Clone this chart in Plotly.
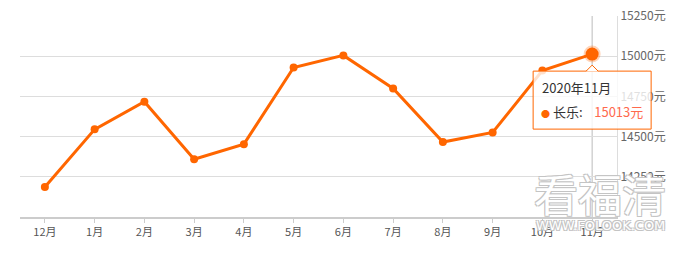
import plotly.graph_objects as go

months = ["12月", "1月", "2月", "3月", "4月", "5月", "6月", "7月", "8月", "9月", "10月", "11月"]
prices = [14186, 14545, 14717, 14359, 14453, 14930, 15005, 14799, 14466, 14526, 14911, 15013]
y_ticks = [14250, 14500, 14750, 15000, 15250]
y_range = [14000, 15250]
tip_title = "2020年11月"
tip_name = "长乐"

ORANGE = "#ff6600"
font_cn = "Noto Sans CJK SC"

fig = go.Figure()
fig.add_trace(go.Scatter(
    x=months, y=prices, mode="lines+markers",
    line=dict(color=ORANGE, width=3),
    marker=dict(size=8, color=ORANGE),
    hoverinfo="skip", showlegend=False, cliponaxis=False,
))
fig.add_trace(go.Scatter(
    x=[months[-1]], y=[prices[-1]], mode="markers",
    marker=dict(size=13, color=ORANGE, line=dict(width=4, color="rgba(255,102,0,0.28)")),
    hoverinfo="skip", showlegend=False, cliponaxis=False,
))

# crosshair
fig.add_shape(type="line", xref="x", yref="paper", x0=months[-1], x1=months[-1], y0=0, y1=1,
              line=dict(color="#bbbbbb", width=1), layer="below")

# tooltip anchored to the last point (paper anchor so it is not clipped)
ax_p = (len(months) - 0.5) / len(months)
ay_p = (prices[-1] - y_range[0]) / (y_range[1] - y_range[0])
common = dict(xref="paper", yref="paper", xsizemode="pixel", ysizemode="pixel",
              xanchor=ax_p, yanchor=ay_p, layer="above")
fig.add_shape(type="rect", x0=-59, x1=59, y0=-17, y1=-75,
              fillcolor="rgba(255,255,255,0.8)", line=dict(color=ORANGE, width=1), **common)
fig.add_shape(type="path", path="M -6,-17.5 L 0,-11.5 L 6,-17.5 Z",
              fillcolor="white", line=dict(color="rgba(0,0,0,0)", width=0), **common)
fig.add_shape(type="path", path="M -6,-17 L 0,-11 L 6,-17",
              line=dict(color=ORANGE, width=1), **common)

fig.add_annotation(x=months[-1], y=prices[-1], xref="x", yref="y", xanchor="left", yanchor="middle",
                   xshift=-52, yshift=-33.5, text=tip_title, showarrow=False,
                   font=dict(family=font_cn, size=13, color="#333333"))
fig.add_annotation(x=months[-1], y=prices[-1], xref="x", yref="y", xanchor="left", yanchor="middle",
                   xshift=-53, yshift=-57.5,
                   text=(f"<span style='font-size:9px;color:{ORANGE}'>●</span> {tip_name}:"
                         f"&nbsp;&nbsp;&nbsp;&nbsp;<span style='color:#ff6a4d'>{prices[-1]}元</span>"),
                   showarrow=False, font=dict(family=font_cn, size=13, color="#333333"))

# watermark
shadow = "-1px -1px 0 #c4c4c4, 1px -1px 0 #c4c4c4, -1px 1px 0 #c4c4c4, 1px 1px 0 #c4c4c4"
fig.add_annotation(x=(600 - 20) / 597, y=(216.7 - 193) / 200.7, xref="paper", yref="paper",
                   xanchor="center", yanchor="middle", text="看福清", showarrow=False,
                   font=dict(family=font_cn, size=44, color="white", shadow=shadow))
fig.add_annotation(x=(600 - 20) / 597, y=(216.7 - 225) / 200.7, xref="paper", yref="paper",
                   xanchor="center", yanchor="middle", text="WWW.FOLOOK.COM", showarrow=False,
                   font=dict(family="DejaVu Sans", size=13, color="white", shadow=shadow))

fig.update_layout(
    width=691, height=253,
    margin=dict(l=20, r=74, t=16, b=36),
    paper_bgcolor="white", plot_bgcolor="white",
    font=dict(family=font_cn, size=12, color="#666666"),
    xaxis=dict(
        type="category", range=[-0.5, len(months) - 0.5],
        showgrid=False, showline=True, linecolor="#cccccc", linewidth=2,
        ticks="outside", ticklen=4, tickcolor="#cccccc", automargin=False,
        tickfont=dict(size=11, color="#555555"), fixedrange=True,
    ),
    yaxis=dict(
        side="right", range=y_range, tickvals=y_ticks,
        ticktext=[f"{v}元" for v in y_ticks], automargin=False,
        showgrid=True, gridcolor="#dddddd", gridwidth=1,
        showline=True, linecolor="#dddddd", linewidth=1, ticks="", zeroline=False,
        tickfont=dict(size=12, color="#666666"),
    ),
)

fig.write_html("out.html")
